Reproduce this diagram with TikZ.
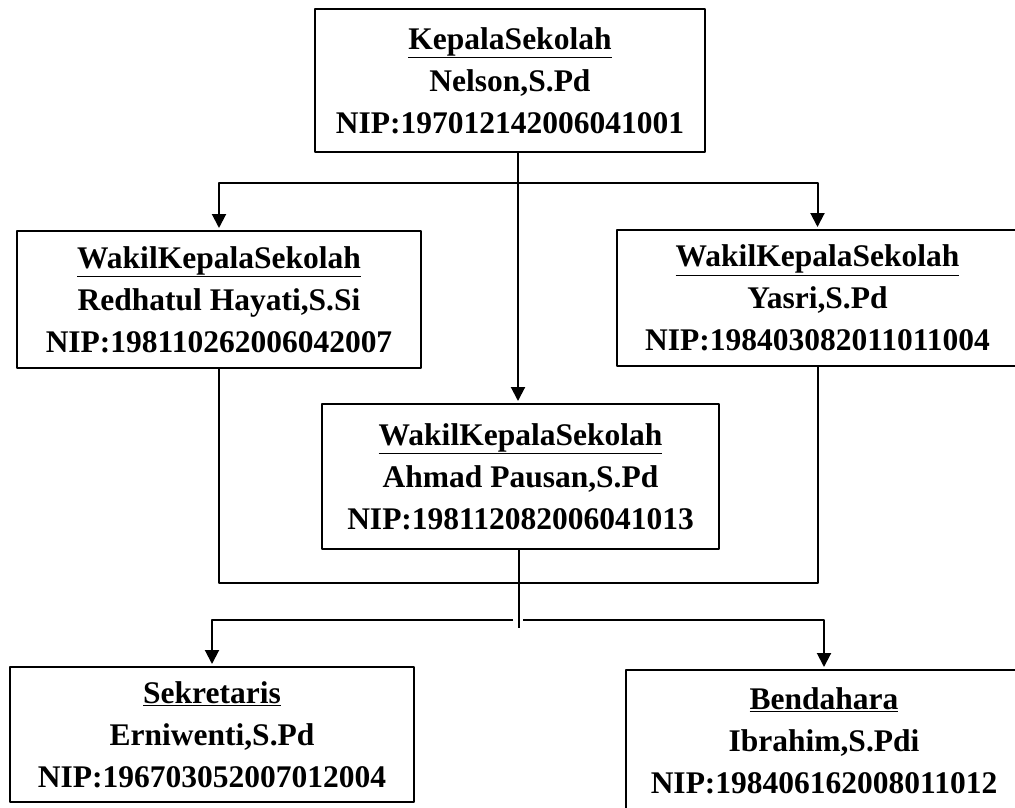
\documentclass[tikz,border=0pt]{standalone}
\usepackage{fontspec}
\setmainfont{Liberation Serif}
\usetikzlibrary{arrows.meta}

\begin{document}
\begin{tikzpicture}[line cap=round,line join=round,>={Triangle[length=14pt,width=14pt]},x=1pt,y=-1pt,
        jabatan/.style={draw,line width=2pt,align=center,inner sep=0pt,
            font=\fontsize{31.5}{42}\selectfont\bfseries},
        garis/.style={line width=2pt,line cap=butt}]
        \useasboundingbox (0,0) rectangle (1015,807);
        \node[jabatan,minimum width=390pt,minimum height=143pt] (kepsek) at (510,80.5) {\underline{KepalaSekolah}\\Nelson,S.Pd\\NIP:197012142006041001};
        \node[jabatan,minimum width=404pt,minimum height=137pt] (wakila) at (219,299.5) {\underline{WakilKepalaSekolah}\\Redhatul Hayati,S.Si\\NIP:198110262006042007};
        \node[jabatan,minimum width=401pt,minimum height=136pt] (wakilc) at (817.5,298) {\underline{WakilKepalaSekolah}\\Yasri,S.Pd\\NIP:198403082011011004};
        \node[jabatan,minimum width=397pt,minimum height=145pt] (wakilb) at (520.5,476.5) {\underline{WakilKepalaSekolah}\\Ahmad Pausan,S.Pd\\NIP:198112082006041013};
        \node[jabatan,minimum width=404pt,minimum height=135pt] (sekretaris) at (212,734.5) {\underline{Sekretaris}\\Erniwenti,S.Pd\\NIP:196703052007012004};
        \node[jabatan,minimum width=396pt,minimum height=142pt] (bendahara) at (824,741) {\underline{Bendahara}\\Ibrahim,S.Pdi\\NIP:198406162008011012};
        \coordinate (cabang) at (518,183);
        \coordinate (gabung) at (519,583);
        \coordinate (ujung) at (519,628);
        \coordinate (kiri) at (513,620);
        \coordinate (kanan) at (523,620);
        \draw[garis,->,shorten >=2pt] (kepsek.south -| cabang) -- (wakilb.north -| cabang);
        \draw[garis,->,shorten >=2pt] (cabang) -| (wakila.north);
        \draw[garis,->,shorten >=2pt] (cabang) -| (wakilc.north);
        \draw[garis] (wakila.south) |- (gabung) -| (wakilc.south);
        \draw[garis] (wakilb.south -| ujung) -- (ujung);
        \draw[garis,->,shorten >=2pt] (kiri) -| (sekretaris.north);
        \draw[garis,->,shorten >=2pt] (kanan) -| (bendahara.north);
    \end{tikzpicture}
\end{document}
